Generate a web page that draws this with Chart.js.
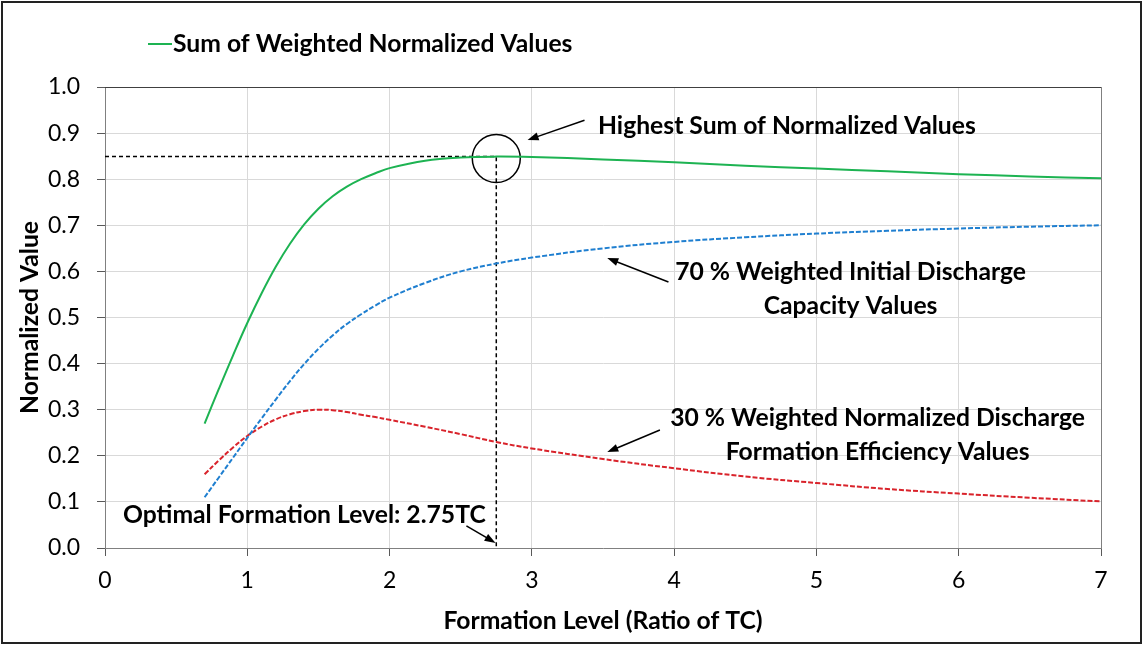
<!DOCTYPE html>
<html>
<head>
<meta charset="utf-8">
<script src="https://cdn.jsdelivr.net/npm/chart.js@4/dist/chart.umd.min.js"></script>
<style>
  body { margin: 0; background: #fff; }
</style>
</head>
<body>
<canvas id="myChart" width="1143" height="645"></canvas>
<script>
// values
const formationLevel   = [0.7, 0.8, 0.9, 1.0, 1.1, 1.2, 1.3, 1.4, 1.5, 1.6, 1.7, 1.8, 1.9, 2.0, 2.25, 2.5, 2.75, 3.0, 3.5, 4.0, 4.5, 5.0, 5.5, 6.0, 6.5, 7.0]
const sumValues        = [0.270, 0.345, 0.418, 0.488, 0.552, 0.610, 0.660, 0.702, 0.736, 0.763, 0.784, 0.800, 0.813, 0.824, 0.840, 0.847, 0.849, 0.848, 0.843, 0.837, 0.829, 0.823, 0.817, 0.811, 0.806, 0.802]
const capacityValues   = [0.110, 0.153, 0.196, 0.239, 0.281, 0.322, 0.362, 0.399, 0.432, 0.461, 0.486, 0.507, 0.526, 0.543, 0.575, 0.600, 0.617, 0.630, 0.650, 0.664, 0.674, 0.682, 0.688, 0.693, 0.697, 0.700]
const efficiencyValues = [0.160, 0.190, 0.218, 0.243, 0.263, 0.279, 0.290, 0.297, 0.300, 0.299, 0.295, 0.289, 0.284, 0.278, 0.263, 0.247, 0.230, 0.216, 0.193, 0.173, 0.155, 0.141, 0.128, 0.118, 0.109, 0.101]

const optimalLevel = 2.75
const highestSum = 0.849

const notes = [
  {lines: ["Highest Sum of Normalized Values"], x: 3.465, y: 0.915, align: "left", tail: [3.37, 0.928], head: [2.97, 0.885]},
  {lines: ["70 % Weighted Initial Discharge", "Capacity Values"], x: 5.24, y: 0.599, align: "center", tail: [3.96, 0.577], head: [3.53, 0.629]},
  {lines: ["30 % Weighted Normalized Discharge", "Formation Efficiency Values"], x: 5.43, y: 0.282, align: "center", tail: [3.90, 0.256], head: [3.53, 0.208]},
  {lines: ["Optimal Formation Level: 2.75TC"], x: 0.126, y: 0.0716, align: "left", tail: [2.54, 0.048], head: [2.745, 0.011]}
]

const FONT = "Lato"
const pts = ys => formationLevel.map((x, i) => ({x: x, y: ys[i]}))

function arrow(ctx, x1, y1, x2, y2) {
  let a = Math.atan2(y2 - y1, x2 - x1)
  ctx.beginPath()
  ctx.moveTo(x1, y1)
  ctx.lineTo(x2 - 8 * Math.cos(a), y2 - 8 * Math.sin(a))
  ctx.stroke()
  ctx.beginPath()
  ctx.moveTo(x2, y2)
  ctx.lineTo(x2 - 11 * Math.cos(a) + 4 * Math.sin(a), y2 - 11 * Math.sin(a) - 4 * Math.cos(a))
  ctx.lineTo(x2 - 11 * Math.cos(a) - 4 * Math.sin(a), y2 - 11 * Math.sin(a) + 4 * Math.cos(a))
  ctx.closePath()
  ctx.fill()
}

const extras = {
  id: "extras",
  beforeDraw(chart) {
    let ctx = chart.ctx
    ctx.save()
    ctx.fillStyle = "#fff"
    ctx.fillRect(0, 0, chart.width, chart.height)
    ctx.restore()
  },
  afterDraw(chart) {
    let ctx = chart.ctx, a = chart.chartArea
    let sx = chart.scales.x, sy = chart.scales.y
    ctx.save()
    // plot frame top and right
    ctx.lineWidth = 1
    ctx.strokeStyle = "#404040"
    ctx.beginPath(); ctx.moveTo(a.left, a.top + 0.5); ctx.lineTo(a.right, a.top + 0.5); ctx.stroke()
    ctx.strokeStyle = "#808080"
    ctx.beginPath(); ctx.moveTo(a.right + 0.5, a.top); ctx.lineTo(a.right + 0.5, a.bottom); ctx.stroke()
    // outer frame
    ctx.strokeStyle = "#222"
    ctx.lineWidth = 2
    ctx.strokeRect(2, 2, chart.width - 4, chart.height - 4)

    // legend
    let ds = chart.data.datasets[0]
    ctx.strokeStyle = ds.borderColor
    ctx.lineWidth = 2
    ctx.beginPath(); ctx.moveTo(148, 44); ctx.lineTo(172, 44); ctx.stroke()
    ctx.fillStyle = "#000"
    ctx.font = "bold 24.7px " + FONT
    ctx.textBaseline = "middle"
    ctx.textAlign = "left"
    ctx.fillText(ds.label, 173, 44)

    // notes and arrows
    ctx.strokeStyle = "#000"
    ctx.lineWidth = 1.5
    notes.forEach(n => {
      ctx.textAlign = n.align
      let px = sx.getPixelForValue(n.x), py = sy.getPixelForValue(n.y)
      n.lines.forEach((t, i) => ctx.fillText(t, px, py + i * 34))
      arrow(ctx, sx.getPixelForValue(n.tail[0]), sy.getPixelForValue(n.tail[1]),
                 sx.getPixelForValue(n.head[0]), sy.getPixelForValue(n.head[1]))
    })
    ctx.restore()
  }
}

new Chart("myChart", {
  type: "line",
  data: {
    datasets: [{
      label: "Sum of Weighted Normalized Values",
      data: pts(sumValues),
      borderColor: "#1db352",
      borderWidth: 2,
      pointRadius: 0,
      tension: 0.4,
      fill: false
    }, {
      label: "70 % Weighted Initial Discharge Capacity Values",
      data: pts(capacityValues),
      borderColor: "#1f7fd0",
      borderWidth: 2,
      borderDash: [5, 2],
      pointRadius: 0,
      tension: 0.4,
      fill: false
    }, {
      label: "30 % Weighted Normalized Discharge Formation Efficiency Values",
      data: pts(efficiencyValues),
      borderColor: "#d9232b",
      borderWidth: 2,
      borderDash: [5, 2],
      pointRadius: 0,
      tension: 0.4,
      fill: false
    }, {
      label: "Optimal",
      data: [{x: 0, y: highestSum}, {x: optimalLevel, y: highestSum}, {x: optimalLevel, y: 0}],
      borderColor: "#000",
      borderWidth: 1.5,
      borderDash: [4, 3],
      pointRadius: 0,
      tension: 0,
      fill: false
    }, {
      type: "scatter",
      label: "Highest",
      data: [{x: optimalLevel, y: highestSum - 0.004}],
      pointRadius: 24,
      pointHoverRadius: 24,
      borderColor: "#000",
      borderWidth: 1.5,
      backgroundColor: "rgba(0,0,0,0)"
    }]
  },
  options: {
    responsive: false,
    animation: false,
    layout: {padding: {top: 87, right: 42, left: 0, bottom: 0}},
    plugins: {
      legend: {display: false},
      tooltip: {enabled: false}
    },
    scales: {
      x: {
        type: "linear",
        min: 0, max: 7,
        afterFit: s => { s.height = 97 },
        ticks: {stepSize: 1, color: "#000", padding: 11, font: {family: FONT, size: 23}},
        grid: {color: "#d9d9d9", tickColor: "#595959", tickLength: 8},
        border: {color: "#808080"},
        title: {display: true, text: "Formation Level (Ratio of TC)", color: "#000",
                font: {family: FONT, size: 24.7, weight: "bold"}, padding: {top: 0, bottom: 9}}
      },
      y: {
        min: 0, max: 1,
        afterFit: s => { s.width = 105 },
        ticks: {stepSize: 0.1, color: "#000", padding: 17, font: {family: FONT, size: 23},
                callback: v => v.toFixed(1)},
        grid: {color: "#d9d9d9", tickColor: "#595959", tickLength: 8},
        border: {color: "#808080"},
        title: {display: true, text: "Normalized Value", color: "#000",
                font: {family: FONT, size: 24.7, weight: "bold"}, padding: {top: 15, bottom: 0}}
      }
    }
  },
  plugins: [extras]
});
</script>
</body>
</html>
